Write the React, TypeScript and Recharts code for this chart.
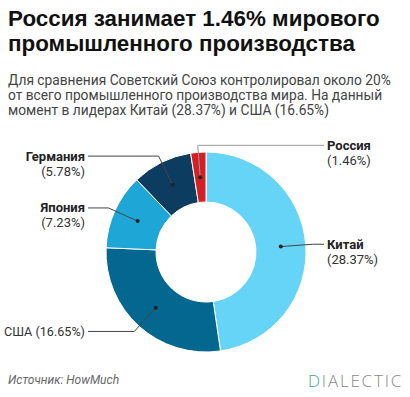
import React from 'react';
import { PieChart, Pie, Cell } from 'recharts';

const countries = ['Китай', 'США', 'Япония', 'Германия', 'Россия'];
const shares = [28.37, 16.65, 7.23, 5.78, 1.46];
const colors = ['#66d4f7', '#04678f', '#1ea6d6', '#0c3c60', '#d32027'];

const data = countries.map((name, i) => ({ name, value: shares[i] }));

const RAD = Math.PI / 180;

function renderLabel(props: any) {
  const { cx, cy, midAngle, innerRadius, outerRadius, name, value } = props;
  const pt = (r: number) => ({
    x: cx + r * Math.cos(-midAngle * RAD),
    y: cy + r * Math.sin(-midAngle * RAD),
  });
  const dot = pt((innerRadius + outerRadius) / 2);
  const elbow = pt(outerRadius + 7);
  // the thin slice at the top goes to the right side
  const right = elbow.x > cx - 15;
  const endX = right ? cx + 118 : cx - 118;
  const textX = right ? cx + 121 : cx - 121;
  const anchor = right ? 'start' : 'end';
  const pct = `(${value.toFixed(2)}%)`;
  const oneLine = elbow.y > cy + 60;
  const lineColor = elbow.y < cy - 100 ? '#999' : '#444';

  return (
    <g>
      <polyline
        points={`${dot.x},${dot.y} ${elbow.x},${elbow.y} ${endX},${elbow.y}`}
        fill="none"
        stroke={lineColor}
        strokeWidth={1}
      />
      <circle cx={dot.x} cy={dot.y} r={2} fill="#222" />
      {oneLine ? (
        <text x={textX} y={elbow.y} textAnchor={anchor} dominantBaseline="central" fontSize={12.6} fill="#333">
          {`${name} ${pct}`}
        </text>
      ) : (
        <text x={textX} y={elbow.y} textAnchor={anchor} fontSize={13} fill="#333">
          <tspan x={textX} dy="0.35em" fontWeight="bold" fill="#222">{name}</tspan>
          <tspan x={textX} dy={15}>{pct}</tspan>
        </text>
      )}
    </g>
  );
}

export default function App() {
  return (
    <div
      style={{
        position: 'absolute',
        left: 0,
        top: 0,
        width: 410,
        height: 397,
        background: '#fff',
        fontFamily: 'Roboto, sans-serif',
        overflow: 'hidden',
      }}
    >
      <div
        style={{
          position: 'absolute',
          left: 8,
          top: 6,
          width: 400,
          fontFamily: '"Liberation Sans", Arial, sans-serif',
          fontWeight: 'bold',
          fontSize: 22.4,
          lineHeight: '25px',
          color: '#111',
        }}
      >
        Россия занимает 1.46% мирового промышленного производства
      </div>
      <div
        style={{
          position: 'absolute',
          left: 8,
          top: 73,
          width: 400,
          fontSize: 13.75,
          lineHeight: '15px',
          color: '#444',
        }}
      >
        Для сравнения Советский Союз контролировал около 20% от всего промышленного производства мира. На данный момент в лидерах Китай (28.37%) и США (16.65%)
      </div>
      <div style={{ position: 'absolute', left: 0, top: 132 }}>
        <PieChart width={410} height={240}>
          <Pie
            data={data}
            dataKey="value"
            nameKey="name"
            cx={201}
            cy={115}
            innerRadius={50}
            outerRadius={100}
            startAngle={90}
            endAngle={-270}
            stroke="#fff"
            strokeWidth={1}
            labelLine={false}
            label={renderLabel}
            isAnimationActive={false}
          >
            {data.map((entry, index) => (
              <Cell key={`cell-${index}`} fill={colors[index]} />
            ))}
          </Pie>
        </PieChart>
      </div>
      <div
        style={{
          position: 'absolute',
          left: 8,
          top: 373,
          fontSize: 12,
          fontStyle: 'italic',
          color: '#666',
        }}
      >
        Источник: HowMuch
      </div>
      <div
        style={{
          position: 'absolute',
          left: 308,
          top: 369,
          fontFamily: '"Open Sans", sans-serif',
          fontWeight: 300,
          fontSize: 17,
          letterSpacing: 1.8,
          color: '#888',
        }}
      >
        <span style={{ color: '#3aa58a' }}>D</span>IALECTIC
      </div>
    </div>
  );
}
